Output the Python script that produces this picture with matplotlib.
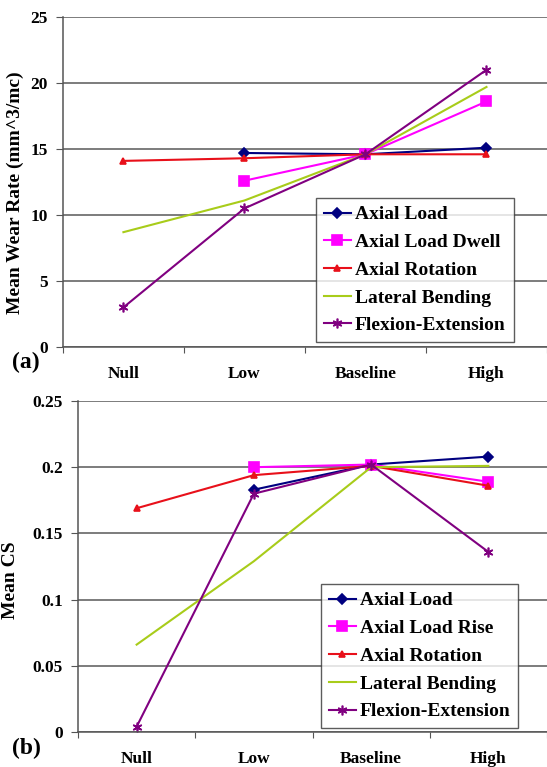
import numpy as np
import matplotlib
matplotlib.use("Agg")
from matplotlib import pyplot as plt

plt.rcParams['font.family'] = ['Liberation Serif', 'DejaVu Serif']
plt.rcParams['font.weight'] = 'bold'

categories = ["Null", "Low", "Baseline", "High"]

# (a) mean wear rate, None = no point
wear_axial_load = [None, 14.7, 14.6, 15.1]
wear_axial_dwell = [None, 12.6, 14.6, 18.6]
wear_axial_rot = [14.1, 14.3, 14.6, 14.6]
wear_lat_bend = [8.7, 11.1, 14.6, 19.7]
wear_flex_ext = [3.0, 10.5, 14.6, 21.0]

# (b) mean CS
cs_axial_load = [None, 0.183, 0.202, 0.208]
cs_axial_rise = [None, 0.200, 0.202, 0.189]
cs_axial_rot = [0.169, 0.194, 0.201, 0.186]
cs_lat_bend = [0.066, 0.129, 0.200, 0.201]
cs_flex_ext = [0.004, 0.180, 0.202, 0.136]

labels_a = ["Axial Load", "Axial Load Dwell", "Axial Rotation", "Lateral Bending", "Flexion-Extension"]
labels_b = ["Axial Load", "Axial Load Rise", "Axial Rotation", "Lateral Bending", "Flexion-Extension"]

styles = [
    dict(color="#000080", marker="D", ms=5),
    dict(color="#FF00FF", marker="s", ms=7),
    dict(color="#E8101A", marker="^", ms=4),
    dict(color="#A8CC1A", marker=None, ms=0),
    dict(color="#800080", marker=(6, 2, 0), ms=7),
]

fig = plt.figure(figsize=(5.47, 7.67), dpi=100)
ax1 = fig.add_axes([0.115, 0.5476, 0.885, 0.4302])
ax2 = fig.add_axes([0.1426, 0.0456, 0.8574, 0.4316])


def draw(ax, series, labels, ymax, ystep, ylabel, fmt, legend_box, label_xy):
    x = np.arange(len(categories))
    for vals, lab, st in zip(series, labels, styles):
        xs = [xi for xi, v in zip(x, vals) if v is not None]
        ys = [v for v in vals if v is not None]
        ax.plot(xs, ys, color=st["color"], marker=st["marker"], ms=st["ms"],
                lw=1.5, mew=1.2, label=lab)
    ax.set_xlim(-0.5, 3.5)
    ax.set_ylim(0, ymax)
    yt = np.arange(0, ymax + ystep / 2, ystep)
    ax.set_yticks(yt)
    ax.set_yticklabels([fmt(v) for v in yt], fontsize=12.5, fontweight='bold')
    ax.yaxis.grid(True, color="#666666", lw=1.2)
    ax.set_axisbelow(True)
    ax.set_xticks(np.arange(-0.5, 4, 1))
    ax.set_xticklabels([])
    ax.set_xticks(x, minor=True)
    ax.set_xticklabels(categories, minor=True, fontsize=12.5, fontweight='bold')
    ax.tick_params(axis='x', which='minor', length=0, pad=14)
    ax.tick_params(axis='x', which='major', length=4, color="#555555")
    ax.tick_params(axis='y', length=5, color="#555555", pad=6)
    for s in ["top", "right"]:
        ax.spines[s].set_visible(False)
    for s in ["left", "bottom"]:
        ax.spines[s].set_color("#555555")
        ax.spines[s].set_linewidth(1.1)
    ax.set_ylabel(ylabel, fontsize=14, fontweight='bold')
    ax.yaxis.set_label_coords(*label_xy)
    leg = ax.legend(loc="upper left", bbox_to_anchor=legend_box, fontsize=14,
                    frameon=True, fancybox=False, edgecolor="#333333",
                    handlelength=1.4, handletextpad=0.2, borderpad=0.4,
                    labelspacing=0.52, borderaxespad=0)
    leg.get_frame().set_linewidth(1.0)
    for t in leg.get_texts():
        t.set_fontweight('bold')


draw(ax1, [wear_axial_load, wear_axial_dwell, wear_axial_rot, wear_lat_bend, wear_flex_ext],
     labels_a, 25, 5, "Mean Wear Rate (mm^3/mc)", lambda v: "%d" % v,
     (0.523, 0.4515), (-0.08, 0.467))
draw(ax2, [cs_axial_load, cs_axial_rise, cs_axial_rot, cs_lat_bend, cs_flex_ext],
     labels_b, 0.25, 0.05, "Mean CS", lambda v: "0" if v == 0 else ("%.2f" % v).rstrip("0"),
     (0.518, 0.447), (-0.126, 0.46))

fig.text(0.022, 0.528, "(a)", fontsize=17, fontweight='bold', va='center')
fig.text(0.022, 0.0248, "(b)", fontsize=17, fontweight='bold', va='center')

fig.savefig("out.png", dpi=100)
